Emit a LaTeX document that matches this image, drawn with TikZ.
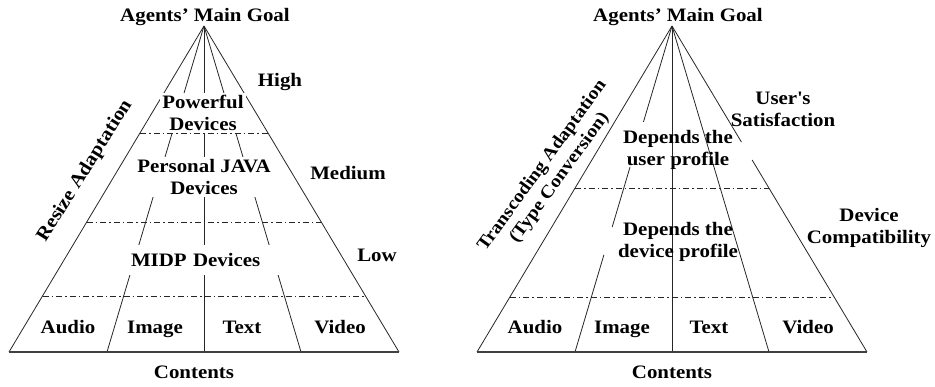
\documentclass[tikz,border=0pt]{standalone}
\usepackage{fontspec}
\setmainfont{Liberation Serif}[FakeStretch=1.1]
\usetikzlibrary{calc}

\begin{document}
\begin{tikzpicture}[x=1pt,y=-1pt,
    every node/.style={font=\fontsize{19}{22}\selectfont\bfseries, align=center, inner sep=2pt},
    ray/.style={line width=0.8pt, black!85},
    ground/.style={line width=1.2pt, black!75},
    level/.style={line width=0.8pt, black!85, dash pattern=on 6pt off 3pt on 1.5pt off 3pt},
    cover/.style={fill=white}]
  \useasboundingbox (0,0) rectangle (935,387);

  % Left pyramid
  \coordinate (apexL) at (204,26);
  \foreach \i/\x in {0/9,1/107,2/204,3/301,4/399}
    \coordinate (bL\i) at (\x,352);
  \foreach \i in {0,...,4}
    \draw[ray] (apexL) -- (bL\i);
  \draw[ground] (bL0) -- (bL4);

  % Left labels
  \node (goalL) at (205,17) {Agents’ Main Goal};
  \node (high) at (280,82) {High};
  \node (medium) at (348,173) {Medium};
  \node (low) at (377,255) {Low};
  \node[cover] (powerful) at (203,113) {Powerful\\Devices};
  \node[cover] (pjava) at (204,177) {Personal JAVA\\Devices};
  \node[cover, text width=146pt, align=left, minimum height=30pt] (midp) at (204,260) {MIDP Devices};
  \node[cover, rotate=58] (resize) at (85,171) {Resize Adaptation};
  \foreach \x/\t in {68/Audio,155/Image,242/Text,340/Video}
    \node[anchor=base] (cL\t) at (\x,334) {\t};
  \node[anchor=base] (contentsL) at (194,379) {Contents};

  % Left levels
  \foreach \f in {0.328,0.601,0.828}
    \draw[level] ($(apexL)!\f!(bL0)$) -- ($(apexL)!\f!(bL4)$);

  % Right pyramid
  \coordinate (apexR) at (672,26);
  \foreach \i/\x in {0/477,1/575,2/672,3/769,4/867}
    \coordinate (bR\i) at (\x,352);
  \draw[ray] (apexR) -- (bR0);
  \draw[ray] (apexR) -- ($(apexR)!0.294!(bR1)$)
             ($(apexR)!0.433!(bR1)$) -- ($(apexR)!0.617!(bR1)$)
             ($(apexR)!0.702!(bR1)$) -- (bR1);
  \draw[ray] (apexR) -- (bR2);
  \draw[ray] (apexR) -- (bR3);
  \draw[ray] (apexR) -- ($(apexR)!0.356!(bR4)$)
             ($(apexR)!0.411!(bR4)$) -- (bR4);
  \draw[ground] (bR0) -- (bR4);

  % Right levels
  \foreach \f in {0.497,0.831}
    \draw[level] ($(apexR)!\f!(bR0)$) -- ($(apexR)!\f!(bR4)$);

  % Right labels
  \node (goalR) at (678,17) {Agents’ Main Goal};
  \node (usersat) at (783,109) {User\textquotesingle s\\Satisfaction};
  \node (userprof) at (678,150) {Depends the\\user profile};
  \node (devcomp) at (869,228) {Device\\Compatibility};
  \node (devprof) at (678,242) {Depends the\\device profile};
  \node[rotate=54, font=\fontsize{18}{21}\selectfont\bfseries] (transc) at (551,172) {Transcoding Adaptation\\(Type Conversion)};
  \foreach \x/\t in {535/Audio,622/Image,709/Text,808/Video}
    \node[anchor=base] (cR\t) at (\x,334) {\t};
  \node[anchor=base] (contentsR) at (672,379) {Contents};
\end{tikzpicture}
\end{document}
